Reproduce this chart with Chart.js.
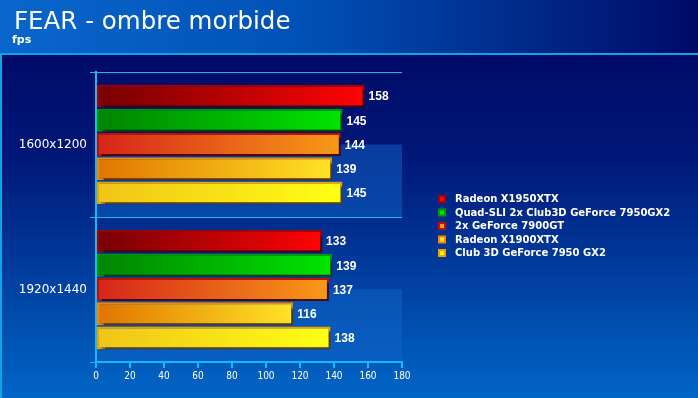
<!DOCTYPE html>
<html>
<head>
<meta charset="utf-8">
<script src="https://cdn.jsdelivr.net/npm/chart.js@4.4.1/dist/chart.umd.min.js"></script>
<style>
  html, body { margin: 0; padding: 0; background: #000a6a; }
  #wrap { width: 698px; height: 398px; }
</style>
</head>
<body>
<div id="wrap"><canvas id="chart" width="698" height="398"></canvas></div>
<script>
// données
const resolutions = ['1600x1200', '1920x1440'];
const cards = [
    'Radeon X1950XTX',
    'Quad-SLI 2x Club3D GeForce 7950GX2',
    '2x GeForce 7900GT',
    'Radeon X1900XTX',
    'Club 3D GeForce 7950 GX2',
];
const fpsX1950 = [158, 133];
const fpsQuadSli = [145, 139];
const fps7900gt = [144, 137];
const fpsX1900 = [139, 116];
const fpsClub3d = [145, 138];
const xTicks = [0, 20, 40, 60, 80, 100, 120, 140, 160, 180];

const TITLE = 'FEAR - ombre morbide';
const SUBTITLE = 'fps';

// couleurs : [gauche, droite, bordure]
const STYLES = [
    ['#760000', '#ff0404', '#a80000'],
    ['#008400', '#00e400', '#009a00'],
    ['#d6241a', '#f89a18', '#bc1206'],
    ['#e07400', '#ffe424', '#f08a00'],
    ['#f0c418', '#ffff14', '#f0a000'],
];
const CYAN = '#18b8f0';

function barGradient(ctx, i) {
    const chart = ctx.chart;
    const xs = chart.scales.x;
    if (!xs || !chart.chartArea) return STYLES[i][1];
    const v = ctx.raw || 0;
    const x0 = xs.getPixelForValue(0);
    const x1 = xs.getPixelForValue(v);
    const g = chart.ctx.createLinearGradient(x0, 0, Math.max(x1, x0 + 1), 0);
    g.addColorStop(0, STYLES[i][0]);
    g.addColorStop(1, STYLES[i][1]);
    return g;
}

// fond, titre, bandes
const backdrop = {
    id: 'backdrop',
    beforeDraw(chart) {
        const c = chart.ctx;
        const W = chart.width, H = chart.height;
        c.save();
        let g = c.createLinearGradient(0, 55, 0, H);
        g.addColorStop(0, '#000a68');
        g.addColorStop(0.3, '#001878');
        g.addColorStop(1, '#0066c6');
        c.fillStyle = g;
        c.fillRect(0, 0, W, H);

        g = c.createLinearGradient(0, 0, W, 0);
        g.addColorStop(0, '#0a66cc');
        g.addColorStop(0.45, '#0050b4');
        g.addColorStop(1, '#000a66');
        c.fillStyle = g;
        c.fillRect(0, 0, W, 53);

        c.fillStyle = '#10a4e4';
        c.fillRect(0, 53, W, 2);
        c.fillRect(0, 53, 2, H - 53);

        c.fillStyle = '#ffffff';
        c.textBaseline = 'alphabetic';
        c.font = '24.5px "DejaVu Sans"';
        c.fillText(TITLE, 14, 29);
        c.font = 'bold 11px "DejaVu Sans"';
        c.fillText(SUBTITLE, 12, 43);

        // bande plus claire sous le centre de chaque catégorie
        const a = chart.chartArea;
        const ys = chart.scales.y;
        c.fillStyle = 'rgba(16,100,200,0.5)';
        resolutions.forEach((r, k) => {
            const mid = ys.getPixelForValue(k);
            const bottom = mid + (ys.getPixelForValue(1) - ys.getPixelForValue(0)) / 2;
            c.fillRect(a.left, mid, a.right - a.left, bottom - mid);
        });
        c.restore();
    },
};

// ombre portée des barres
const shadow = {
    id: 'shadow',
    beforeDatasetDraw(chart) {
        const c = chart.ctx;
        c.save();
        c.shadowColor = 'rgba(0,0,30,0.6)';
        c.shadowOffsetX = 3;
        c.shadowOffsetY = 3;
        c.shadowBlur = 1;
    },
    afterDatasetDraw(chart) {
        chart.ctx.restore();
    },
};

// valeurs au bout des barres + légende
const labels = {
    id: 'labels',
    afterDatasetsDraw(chart) {
        const c = chart.ctx;
        c.save();
        c.fillStyle = '#ffffff';
        c.font = 'bold 12px "Liberation Sans"';
        c.textBaseline = 'middle';
        c.textAlign = 'left';
        chart.data.datasets.forEach((ds, i) => {
            chart.getDatasetMeta(i).data.forEach((bar, j) => {
                c.fillText(String(ds.data[j]), bar.x + 4, bar.y + 1);
            });
        });

        c.font = 'bold 10px "DejaVu Sans"';
        const lx = 438, ly = 199, step = 13.5;
        chart.data.datasets.forEach((ds, i) => {
            const y = ly + i * step;
            c.fillStyle = STYLES[i][2];
            c.fillRect(lx, y - 4, 8, 8);
            c.fillStyle = STYLES[i][1];
            c.fillRect(lx + 2, y - 2, 4, 4);
            c.fillStyle = '#ffffff';
            c.fillText(ds.label, lx + 17, y + 0.5);
        });
        c.restore();
    },
};

const series = [fpsX1950, fpsQuadSli, fps7900gt, fpsX1900, fpsClub3d];

new Chart(document.getElementById('chart'), {
    type: 'bar',
    data: {
        labels: resolutions,
        datasets: series.map((d, i) => ({
            label: cards[i],
            data: d,
            backgroundColor: (ctx) => barGradient(ctx, i),
            borderColor: STYLES[i][2],
            borderWidth: 2,
            borderSkipped: false,
            categoryPercentage: 0.834,
            barPercentage: 0.95,
        })),
    },
    options: {
        indexAxis: 'y',
        responsive: false,
        animation: false,
        events: [],
        layout: { padding: { left: 14, right: 296, top: 72, bottom: 10 } },
        plugins: { legend: { display: false }, tooltip: { enabled: false } },
        scales: {
            x: {
                min: 0, max: 180,
                afterBuildTicks: (s) => { s.ticks = xTicks.map((v) => ({ value: v })); },
                afterFit: (s) => { s.height = 26; },
                grid: { drawOnChartArea: false, color: CYAN, lineWidth: 2, tickLength: 6 },
                border: { color: CYAN, width: 2 },
                ticks: { color: '#ffffff', padding: 2, font: { family: 'DejaVu Sans Condensed, DejaVu Sans', size: 10 } },
            },
            y: {
                afterFit: (s) => { s.width = 82; },
                grid: { color: CYAN, lineWidth: 1, tickLength: 6, offset: true },
                border: { color: CYAN, width: 2 },
                ticks: { color: '#ffffff', padding: 3, font: { family: 'DejaVu Sans', size: 12 } },
            },
        },
    },
    plugins: [backdrop, shadow, labels],
});
</script>
</body>
</html>
